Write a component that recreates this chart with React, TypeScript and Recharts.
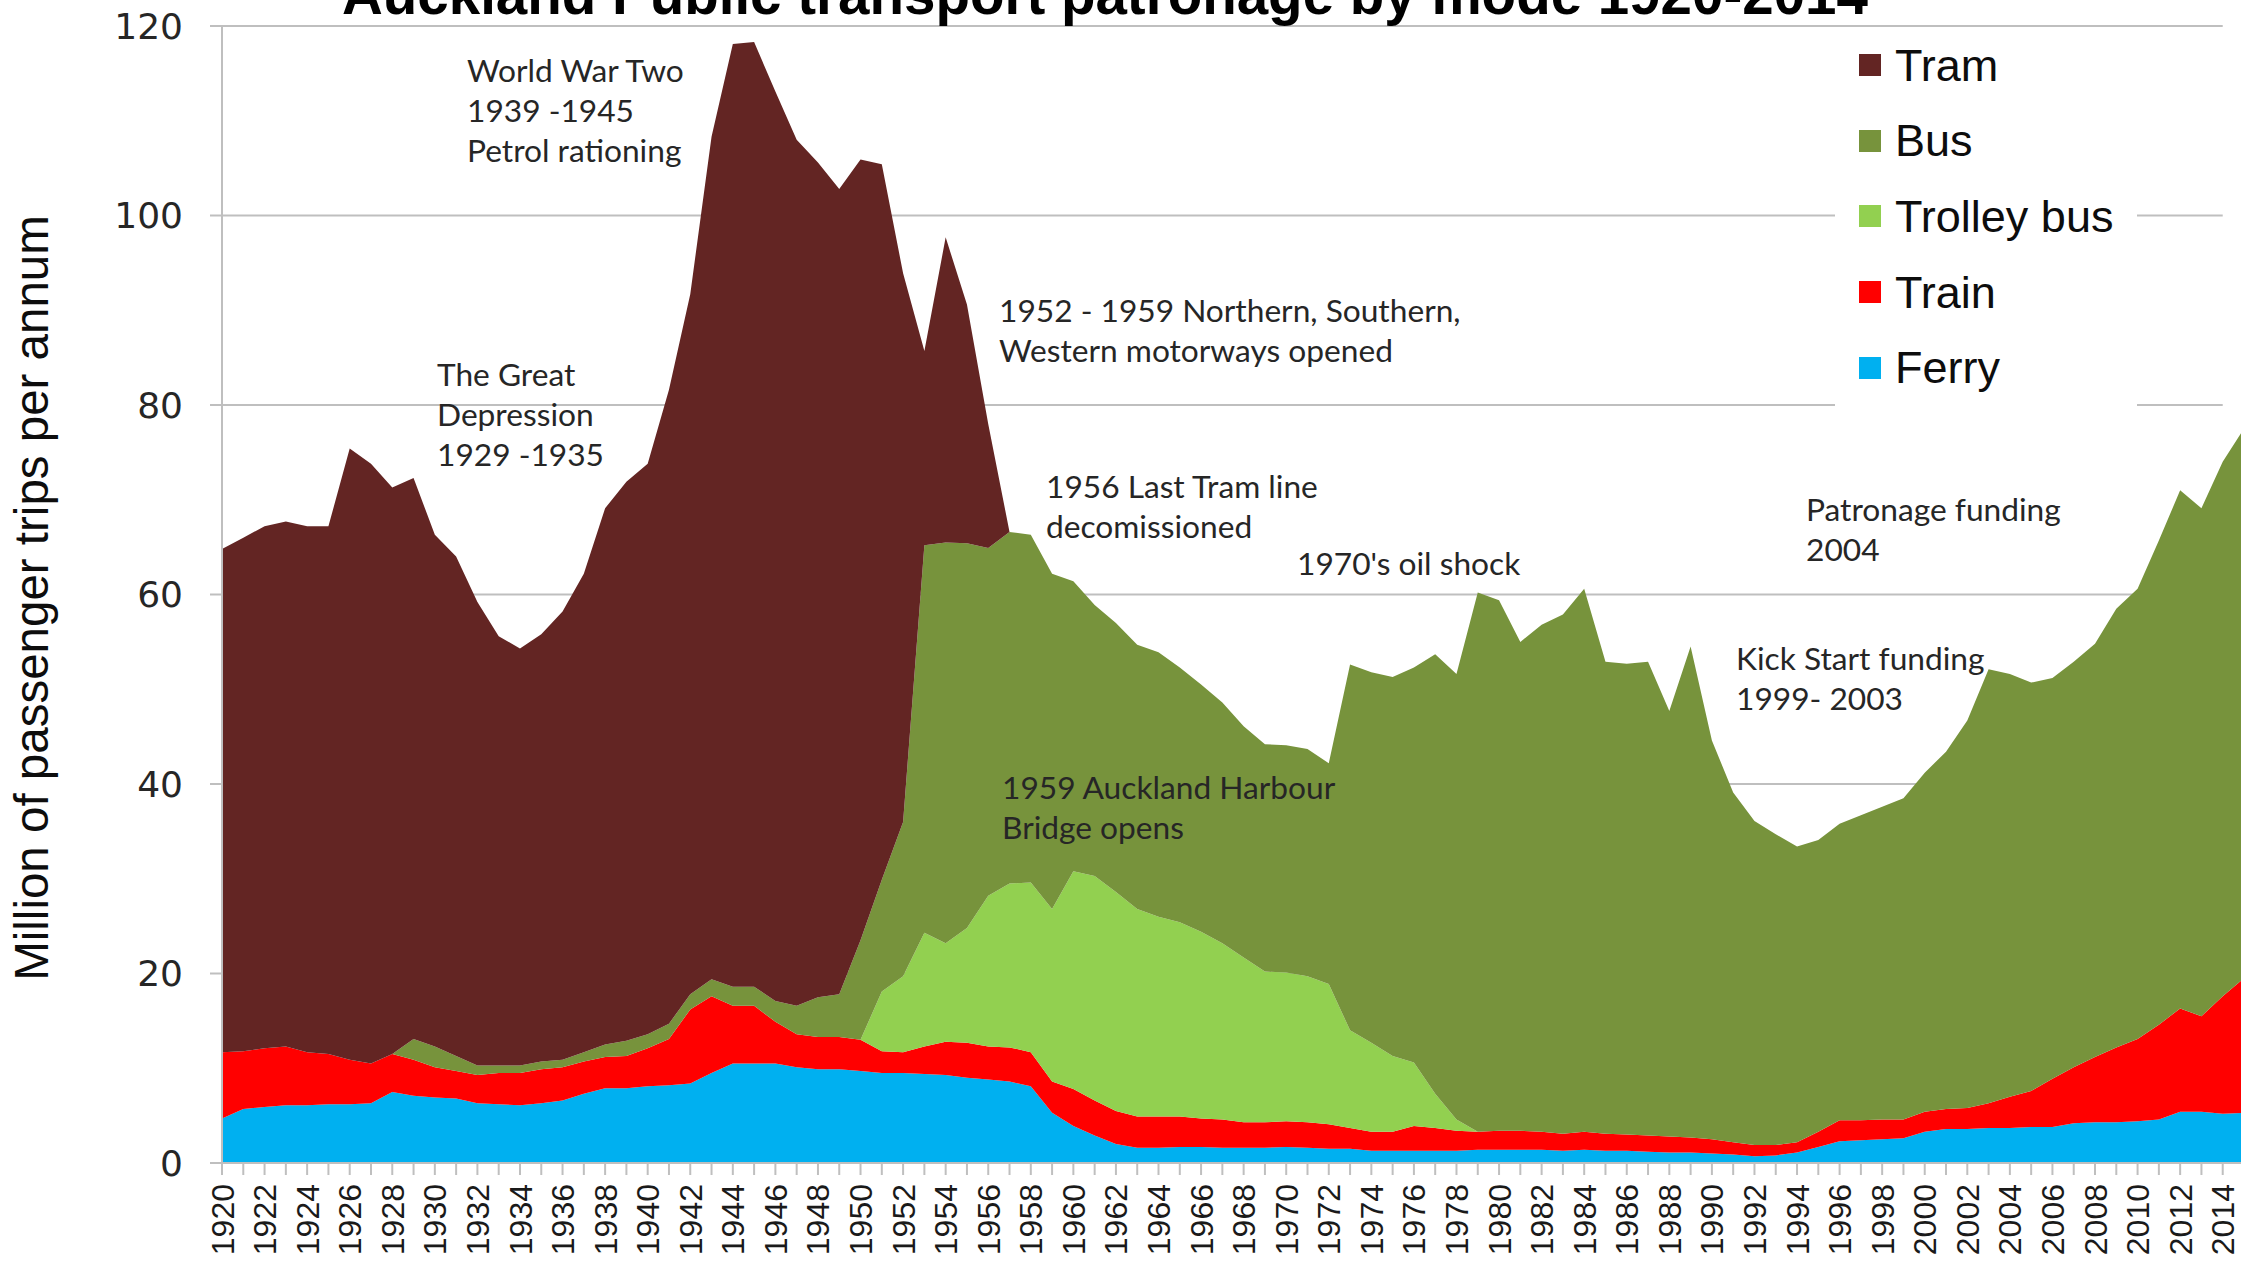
import React from 'react';
import { AreaChart, Area, XAxis, YAxis, CartesianGrid, Legend } from 'recharts';

const years = [
  1920, 1921, 1922, 1923, 1924, 1925, 1926, 1927, 1928, 1929,
  1930, 1931, 1932, 1933, 1934, 1935, 1936, 1937, 1938, 1939,
  1940, 1941, 1942, 1943, 1944, 1945, 1946, 1947, 1948, 1949,
  1950, 1951, 1952, 1953, 1954, 1955, 1956, 1957, 1958, 1959,
  1960, 1961, 1962, 1963, 1964, 1965, 1966, 1967, 1968, 1969,
  1970, 1971, 1972, 1973, 1974, 1975, 1976, 1977, 1978, 1979,
  1980, 1981, 1982, 1983, 1984, 1985, 1986, 1987, 1988, 1989,
  1990, 1991, 1992, 1993, 1994, 1995, 1996, 1997, 1998, 1999,
  2000, 2001, 2002, 2003, 2004, 2005, 2006, 2007, 2008, 2009,
  2010, 2011, 2012, 2013, 2014, 2015,
];

const ferry = [
  4.7, 5.7, 5.9, 6.1, 6.1, 6.2, 6.2, 6.3, 7.5, 7.1,
  6.9, 6.8, 6.3, 6.2, 6.1, 6.3, 6.6, 7.3, 7.9, 7.9,
  8.1, 8.2, 8.4, 9.5, 10.5, 10.5, 10.5, 10.1, 9.9, 9.9,
  9.7, 9.5, 9.5, 9.4, 9.3, 9.0, 8.8, 8.6, 8.1, 5.3,
  3.9, 2.9, 2.0, 1.6, 1.6, 1.7, 1.7, 1.6, 1.6, 1.6,
  1.7, 1.6, 1.5, 1.5, 1.3, 1.3, 1.3, 1.3, 1.3, 1.4,
  1.4, 1.4, 1.4, 1.3, 1.4, 1.3, 1.3, 1.2, 1.1, 1.1,
  1.0, 0.9, 0.7, 0.8, 1.1, 1.7, 2.3, 2.4, 2.5, 2.6,
  3.3, 3.6, 3.6, 3.7, 3.7, 3.8, 3.8, 4.2, 4.3, 4.3,
  4.4, 4.6, 5.4, 5.4, 5.2, 5.3,
];

const train = [
  7.0, 6.1, 6.2, 6.2, 5.6, 5.3, 4.7, 4.2, 4.0, 3.8,
  3.2, 2.9, 3.0, 3.3, 3.4, 3.6, 3.5, 3.4, 3.3, 3.4,
  4.0, 4.9, 7.8, 8.1, 6.1, 6.1, 4.4, 3.5, 3.4, 3.4,
  3.3, 2.3, 2.2, 2.9, 3.5, 3.7, 3.5, 3.6, 3.6, 3.3,
  3.9, 3.7, 3.5, 3.3, 3.3, 3.2, 3.0, 3.0, 2.7, 2.7,
  2.7, 2.7, 2.6, 2.2, 2.0, 2.0, 2.6, 2.4, 2.1, 1.9,
  2.0, 2.0, 1.9, 1.8, 1.9, 1.8, 1.7, 1.7, 1.7, 1.6,
  1.5, 1.3, 1.2, 1.1, 1.1, 1.6, 2.2, 2.1, 2.1, 2.0,
  2.1, 2.1, 2.2, 2.6, 3.3, 3.8, 5.1, 5.9, 6.9, 7.9,
  8.7, 10.0, 10.9, 10.1, 12.4, 14.2,
];

const trolley = [
  0, 0, 0, 0, 0, 0, 0, 0, 0, 0,
  0, 0, 0, 0, 0, 0, 0, 0, 0, 0,
  0, 0, 0, 0, 0, 0, 0, 0, 0, 0,
  0, 6.3, 8.0, 12.0, 10.4, 12.1, 15.9, 17.3, 17.9, 18.2,
  23.0, 23.7, 23.1, 21.9, 21.1, 20.5, 19.7, 18.6, 17.4, 15.9,
  15.7, 15.4, 14.8, 10.3, 9.4, 8.0, 6.7, 3.6, 1.2, 0,
  0, 0, 0, 0, 0, 0, 0, 0, 0, 0,
  0, 0, 0, 0, 0, 0, 0, 0, 0, 0,
  0, 0, 0, 0, 0, 0, 0, 0, 0, 0,
  0, 0, 0, 0, 0, 0,
];

const bus = [
  0, 0, 0, 0, 0, 0, 0, 0, 0, 2.2,
  2.2, 1.6, 1.0, 0.8, 0.8, 0.8, 0.8, 1.0, 1.3, 1.6,
  1.5, 1.6, 1.6, 1.8, 2.0, 2.0, 2.2, 3.0, 4.2, 4.5,
  10.5, 11.8, 16.3, 40.9, 42.3, 40.6, 36.7, 37.1, 36.7, 35.4,
  30.6, 28.6, 28.4, 27.9, 27.9, 26.9, 26.1, 25.4, 24.4, 24.0,
  24.0, 24.0, 23.3, 38.6, 39.1, 40.0, 41.7, 46.4, 47.0, 56.9,
  56.0, 51.6, 53.5, 54.8, 57.3, 49.8, 49.7, 50.0, 44.9, 51.8,
  42.1, 36.9, 34.2, 32.8, 31.2, 30.8, 31.3, 32.2, 33.0, 33.9,
  35.8, 37.7, 40.9, 45.8, 44.6, 43.1, 42.3, 42.8, 43.6, 46.3,
  47.5, 51.1, 54.7, 53.6, 56.4, 58.0,
];

const tram = [
  53.1, 54.2, 55.1, 55.4, 55.5, 55.7, 64.5, 63.3, 59.8, 59.2,
  54.0, 52.7, 48.9, 45.3, 44.0, 45.1, 47.3, 50.5, 56.6, 59.0,
  60.2, 66.9, 73.9, 88.9, 99.5, 99.7, 96.0, 91.4, 88.1, 85.0,
  82.4, 75.5, 57.9, 20.5, 32.2, 25.2, 13.1, 0, 0, 0,
  0, 0, 0, 0, 0, 0, 0, 0, 0, 0,
  0, 0, 0, 0, 0, 0, 0, 0, 0, 0,
  0, 0, 0, 0, 0, 0, 0, 0, 0, 0,
  0, 0, 0, 0, 0, 0, 0, 0, 0, 0,
  0, 0, 0, 0, 0, 0, 0, 0, 0, 0,
  0, 0, 0, 0, 0, 0,
];

const yTicks = [0, 20, 40, 60, 80, 100, 120];

const data = years.map((year, i) => ({
  year,
  ferry: ferry[i],
  train: train[i],
  trolley: trolley[i],
  bus: bus[i],
  tram: tram[i],
}));

// stacking order, bottom first
const series = [
  { key: 'ferry', name: 'Ferry', color: '#00B0F0' },
  { key: 'train', name: 'Train', color: '#FF0000' },
  { key: 'trolley', name: 'Trolley bus', color: '#92D050' },
  { key: 'bus', name: 'Bus', color: '#77933C' },
  { key: 'tram', name: 'Tram', color: '#632523' },
];

const annotations = [
  { x: 467, y: 82, lines: ['World War Two', '1939 -1945', 'Petrol rationing'] },
  { x: 437, y: 386, lines: ['The Great', 'Depression', '1929 -1935'] },
  { x: 999, y: 322, lines: ['1952 - 1959 Northern, Southern,', 'Western  motorways opened'] },
  { x: 1046, y: 498, lines: ['1956 Last Tram line', 'decomissioned'] },
  { x: 1297, y: 575, lines: ["1970's oil shock"] },
  { x: 1002, y: 799, lines: ['1959 Auckland Harbour', 'Bridge opens'] },
  { x: 1806, y: 521, lines: ['Patronage funding', '2004'] },
  { x: 1736, y: 670, lines: ['Kick Start funding', '1999- 2003'] },
];

const W = 2260;
const H = 1263;
const margin = { top: 26, right: 16, bottom: 0, left: 102 };
const yAxisWidth = 120;
const plotLeft = margin.left + yAxisWidth;
const plotWidth = W - margin.right - plotLeft;
// gridlines stop at the 2014 tick
const gridWidth = (plotWidth * (years.length - 2)) / (years.length - 1);

const axisGrey = '#bfbfbf';

const YearTick = (props: any) => {
  const { x, y, payload } = props;
  const year = Number(payload.value);
  return (
    <g>
      <line x1={x} y1={y} x2={x} y2={y + 12} stroke={axisGrey} strokeWidth={2} />
      {year % 2 === 0 && (
        <text
          transform={`translate(${x},${y + 21}) rotate(-90)`}
          textAnchor="end"
          dy="0.36em"
          fontFamily="'Liberation Sans', Arial, sans-serif"
          fontSize={32}
          fill="#1a1a1a"
        >
          {year}
        </text>
      )}
    </g>
  );
};

const renderLegend = () => (
  <div style={{ width: 302, height: 382, background: '#fff', position: 'relative' }}>
    {[...series].reverse().map((s, i) => (
      <div
        key={s.key}
        style={{
          position: 'absolute',
          left: 24,
          top: 35 + i * 75.7 - 25,
          height: 50,
          display: 'flex',
          alignItems: 'center',
        }}
      >
        <span style={{ width: 22, height: 22, background: s.color, display: 'inline-block' }} />
        <span
          style={{
            marginLeft: 14,
            fontFamily: "'Liberation Sans', Arial, sans-serif",
            fontSize: 45,
            lineHeight: '45px',
            color: '#0d0d0d',
            whiteSpace: 'nowrap',
          }}
        >
          {s.name}
        </span>
      </div>
    ))}
  </div>
);

const App: React.FC = () => {
  return (
    <div
      style={{
        position: 'fixed',
        top: 0,
        left: 0,
        width: 2241,
        height: 1263,
        overflow: 'hidden',
        background: '#fff',
      }}
    >
      <AreaChart width={W} height={H} data={data} margin={margin}>
        <CartesianGrid
          horizontal
          vertical={false}
          x={plotLeft}
          width={gridWidth}
          stroke={axisGrey}
          strokeWidth={2}
        />
        <XAxis
          dataKey="year"
          type="category"
          scale="point"
          padding={{ left: 0, right: 0 }}
          interval={0}
          height={100}
          tickSize={0}
          tickMargin={0}
          tickLine={false}
          axisLine={{ stroke: axisGrey, strokeWidth: 2 }}
          tick={<YearTick />}
        />
        <YAxis
          width={yAxisWidth}
          domain={[0, 120]}
          ticks={yTicks}
          interval={0}
          tickSize={12}
          tickMargin={27}
          tickLine={{ stroke: axisGrey, strokeWidth: 2 }}
          axisLine={{ stroke: axisGrey, strokeWidth: 2 }}
          tick={{ fontFamily: "'DejaVu Sans', Verdana, sans-serif", fontSize: 36, fill: '#262626' }}
        />
        {series.map((s) => (
          <Area
            key={s.key}
            type="linear"
            dataKey={s.key}
            name={s.name}
            stackId="modes"
            fill={s.color}
            fillOpacity={1}
            stroke="none"
            dot={false}
            activeDot={false}
            isAnimationActive={false}
          />
        ))}
        <Legend
          layout="vertical"
          align="center"
          verticalAlign="middle"
          content={renderLegend}
          wrapperStyle={{ left: 1835, top: 30, width: 302, height: 382 }}
        />
      </AreaChart>

      <svg
        width={2241}
        height={1263}
        style={{ position: 'absolute', top: 0, left: 0, pointerEvents: 'none' }}
      >
        <text
          x={1105}
          y={14}
          textAnchor="middle"
          fontFamily="'Liberation Sans', Arial, sans-serif"
          fontWeight="bold"
          fontSize={56.5}
          fill="#000"
        >
          Auckland Public transport patronage by mode 1920-2014
        </text>
        <text
          transform="translate(48,598) rotate(-90)"
          textAnchor="middle"
          fontFamily="'Liberation Sans', Arial, sans-serif"
          fontSize={47.5}
          fill="#0d0d0d"
        >
          Million of passenger trips per annum
        </text>
        {annotations.map((a, i) => (
          <text key={i} fontFamily="Lato, 'Open Sans', sans-serif" fontSize={31.7} fill="#262626">
            {a.lines.map((line, j) => (
              <tspan key={j} x={a.x} y={a.y + j * 40}>
                {line}
              </tspan>
            ))}
          </text>
        ))}
      </svg>
    </div>
  );
};

export default App;
